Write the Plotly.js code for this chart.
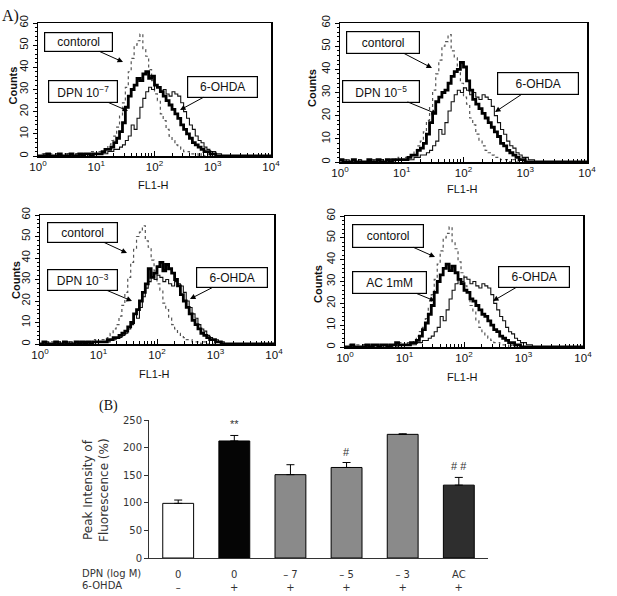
<!DOCTYPE html>
<html>
<head>
<meta charset="utf-8">
<script src="https://cdn.plot.ly/plotly-3.0.1.min.js"></script>
<style>html,body{margin:0;padding:0;background:#fff;}#chart{width:617px;height:596px;}</style>
</head>
<body>
<div id="chart"></div>
<script>
// ---- Histogram data (FL1-H channel values, counts) ----
const fl1Channels = [
  1.00,1.12,1.26,1.41,1.58,1.78,2.00,2.24,2.51,2.82,3.16,3.55,3.98,4.47,5.01,5.62,6.31,7.08,7.94,8.91,
  10.0,11.2,12.6,14.1,15.8,17.8,20.0,22.4,25.1,28.2,31.6,35.5,39.8,44.7,50.1,56.2,63.1,70.8,79.4,89.1,
  100,112,126,141,158,178,200,224,251,282,316,355,398,447,501,562,631,708,794,891,
  1000,1122,1259,1413,1585,1778,2000,2239,2512,2818,3162,10000
];
const controlCounts = [
  0,1,0,0,1,0,1,0,0,1,0,1,0,1,1,0,1,1,2,1,
  1,2,2,3,5,7,9,13,18,24,31,38,44,50,52,55,48,45,39,34,
  28,25,19,16,12,9,7,5,4,3,2,2,1,1,1,0,1,0,0,0,
  0,0,0,0,0,0,0,0,0,0,0,0
];
const ohdaCounts = [
  0,0,1,0,0,0,1,0,0,0,1,0,0,1,0,0,1,0,1,1,
  1,1,1,1,2,2,3,3,4,5,7,9,14,12,17,22,26,29,31,30,
  32,31,29,30,28,27,29,28,27,24,20,17,14,12,9,7,6,4,3,2,
  2,1,1,0,0,0,0,0,0,0,0,0
];
const dpn7Counts = [
  0,0,0,1,0,0,0,1,0,0,0,1,0,0,1,0,1,1,0,1,
  1,1,2,3,3,4,6,8,11,15,22,27,30,32,35,34,37,38,35,36,
  32,31,29,27,25,23,21,19,17,14,12,10,8,6,5,4,3,2,2,1,
  1,0,0,0,0,0,0,0,0,0,0,0
];
const dpn5Counts = [
  1,0,0,0,1,0,0,0,0,1,0,0,1,0,0,1,0,1,1,1,
  1,1,2,3,3,5,6,8,12,17,21,26,28,30,31,34,37,39,40,43,
  41,35,31,27,25,23,21,19,17,15,13,11,8,7,5,4,3,2,1,1,
  0,0,0,0,0,0,0,0,0,0,0,0
];
const dpn3Counts = [
  0,1,0,0,0,1,0,0,1,0,0,0,1,0,1,0,1,0,1,1,
  1,1,1,2,2,3,3,4,5,6,8,10,14,16,20,24,28,35,31,33,
  36,38,34,37,35,33,30,27,23,20,17,14,11,9,7,5,4,3,2,2,
  1,1,0,0,0,0,0,0,0,0,0,0
];
const acCounts = [
  0,0,1,0,0,0,0,1,0,1,1,0,1,1,0,1,1,2,1,1,
  1,1,2,2,3,5,8,11,15,19,25,30,33,36,38,35,37,34,31,29,
  26,25,22,21,19,17,15,14,12,10,8,7,5,4,3,2,2,1,1,0,
  0,0,0,0,0,0,0,0,0,0,0,0
];
const panelTreatments = ["DPN 10<sup>−7</sup>", "DPN 10<sup>−5</sup>", "DPN 10<sup>−3</sup>", "AC 1mM"];
const xTickVals = [1, 10, 100, 1000, 10000];
const xTickText = ["10<sup>0</sup>", "10<sup>1</sup>", "10<sup>2</sup>", "10<sup>3</sup>", "10<sup>4</sup>"];

// ---- Bar chart data ----
const dpnLabels = ["0", "0", "– 7", "– 5", "– 3", "AC"];
const ohdaSigns = ["–", "+", "+", "+", "+", "+"];
const peakIntensity = [99, 212, 151, 164, 224, 132];
const peakErrorUp = [6, 10, 18, 9, 1, 14];
const peakErrorDown = [0, 0, 0, 0, 0, 0];
const sigMarks = ["", "**", "", "#", "", "# #"];
const barColors = ["#ffffff", "#050505", "#8a8a8a", "#8a8a8a", "#8a8a8a", "#2e2e2e"];

// ---- Layout helpers ----
const W = 617, H = 596;
const px = v => v / W;
const py = v => 1 - v / H;
const AR = "Liberation Sans, Arial, sans-serif";
const DJ = "DejaVu Sans, sans-serif";

const treatmentCounts = [dpn7Counts, dpn5Counts, dpn3Counts, acCounts];
// pixel boxes of the four histogram panels: [left, right, top, bottom]
const boxes = [[38, 271, 23, 156], [340, 587, 23, 162], [40, 274, 215, 344], [345, 583, 216, 347]];

const minorX = [];
for (let d = 0; d < 4; d++) for (let k = 2; k <= 9; k++) minorX.push(k * Math.pow(10, d));

const traces = [];
const layout = {
  width: W, height: H,
  margin: {l: 0, r: 0, t: 0, b: 0},
  paper_bgcolor: "#fff", plot_bgcolor: "#fff",
  showlegend: false,
  font: {family: AR, color: "#111"},
  annotations: []
};

function textAt(x, y, text, font, extra) {
  layout.annotations.push(Object.assign({
    xref: "paper", yref: "paper", x: px(x), y: py(y), xanchor: "center", yanchor: "middle",
    text: text, showarrow: false, font: font
  }, extra || {}));
}

// annotation boxes: [boxCenterX, boxCenterY, tipX, tipY, width, height] per label per panel
const labelGeom = [
  [[78.5, 42, 123, 62, 61, 12], [83, 91.5, 128, 111, 62, 15], [222.5, 87, 180, 110, 63, 14]],
  [[383, 42.5, 432, 68, 66, 15], [381, 91, 437, 114, 70, 15], [538, 83.5, 495, 112, 74, 15]],
  [[82.5, 232.5, 127, 253, 63, 13], [82.5, 280, 132, 301, 63, 14], [232, 277.5, 190, 299, 64, 13]],
  [[388, 236, 435, 257, 64, 16], [389.5, 282.5, 435, 301, 67, 15], [534, 277, 493, 301, 64, 14]]
];
const countsTitlePos = [[12.5, 86], [312, 88], [16, 280], [318, 284]];
const flTitlePos = [[153, 185], [463, 189], [154, 374], [463, 377]];

for (let p = 0; p < 4; p++) {
  const n = p + 1;
  const xa = "x" + n, ya = "y" + n;
  const [l, r, t, b] = boxes[p];
  traces.push({x: fl1Channels, y: controlCounts, xaxis: xa, yaxis: ya, type: "scatter", mode: "lines",
    line: {color: "#555", width: 1.2, dash: "dot", shape: "hv"}, name: "contorol"});
  traces.push({x: fl1Channels, y: ohdaCounts, xaxis: xa, yaxis: ya, type: "scatter", mode: "lines",
    line: {color: "#111", width: 1.1, shape: "hv"}, name: "6-OHDA"});
  traces.push({x: fl1Channels, y: treatmentCounts[p], xaxis: xa, yaxis: ya, type: "scatter", mode: "lines",
    line: {color: "#000", width: 2.8, shape: "hv"}, name: panelTreatments[p]});
  const suffix = n === 1 ? "" : String(n);
  layout["xaxis" + suffix] = {
    domain: [px(l), px(r)], anchor: ya, type: "log", range: [0, 4],
    tickmode: "array", tickvals: xTickVals, ticktext: xTickText,
    ticks: "inside", ticklen: 5, tickcolor: "#000", tickwidth: 1,
    minor: {tickmode: "array", tickvals: minorX, ticks: "inside", ticklen: 3, tickcolor: "#000"},
    showgrid: false, zeroline: false, showline: true, linecolor: "#000", linewidth: 1.5, mirror: true,
    tickfont: {family: AR, size: 11.5, color: "#111"}
  };
  layout["yaxis" + suffix] = {
    domain: [py(b), py(t)], anchor: xa, range: [0, 60],
    tickmode: "linear", tick0: 0, dtick: 10, tickangle: -90,
    ticks: "outside", ticklen: 4, tickcolor: "#000",
    minor: {dtick: 2, ticks: "outside", ticklen: 2, tickcolor: "#000"},
    showgrid: false, zeroline: false, showline: true, linecolor: "#000", linewidth: 1.5, mirror: true,
    tickfont: {family: AR, size: 11, color: "#111"}
  };
  const labels = ["contorol", panelTreatments[p], "6-OHDA"];
  labelGeom[p].forEach((g, k) => {
    layout.annotations.push({
      xref: "paper", yref: "paper", x: px(g[2]), y: py(g[3]),
      ax: g[0] - g[2], ay: g[1] - g[3], axref: "pixel", ayref: "pixel",
      text: labels[k], showarrow: true, arrowhead: 2, arrowsize: 1.1, arrowwidth: 1, arrowcolor: "#000",
      bordercolor: "#000", borderwidth: 1.2, borderpad: 3, bgcolor: "#fff",
      width: g[4], height: g[5], align: "center",
      font: {family: AR, size: 12, color: "#111"}
    });
  });
  textAt(countsTitlePos[p][0], countsTitlePos[p][1], "<b>Counts</b>", {family: AR, size: 11, color: "#111"}, {textangle: -90});
  textAt(flTitlePos[p][0], flTitlePos[p][1], "FL1-H", {family: AR, size: 11, color: "#111"});
}

// ---- Bar chart ----
const barX = dpnLabels.map((_, i) => i);
traces.push({
  type: "bar", x: barX, y: peakIntensity, xaxis: "x5", yaxis: "y5", width: 0.55,
  marker: {color: barColors, line: {color: "#000", width: 1}},
  error_y: {type: "data", symmetric: false, array: peakErrorUp, arrayminus: peakErrorDown,
    color: "#000", thickness: 1, width: 4}
});
layout.xaxis5 = {
  domain: [px(149), px(488)], anchor: "y5", range: [-0.52, 5.52],
  tickmode: "array", tickvals: barX, ticktext: dpnLabels.map((d, i) => d + "<br>" + ohdaSigns[i]),
  ticks: "", ticklabelstandoff: 7, showgrid: false, zeroline: false, showline: true, linecolor: "#333", linewidth: 1,
  tickfont: {family: DJ, size: 10, color: "#333"}
};
layout.yaxis5 = {
  domain: [py(558), py(420)], anchor: "x5", range: [0, 250],
  tickmode: "linear", tick0: 0, dtick: 50, ticks: "outside", ticklen: 4, tickcolor: "#333",
  showgrid: false, zeroline: false, showline: true, linecolor: "#333", linewidth: 1,
  tickfont: {family: DJ, size: 10, color: "#333"}
};
sigMarks.forEach((m, i) => {
  if (!m) return;
  layout.annotations.push({xref: "x5", yref: "y5", x: i, y: peakIntensity[i] + peakErrorUp[i],
    xanchor: "center", yanchor: "bottom", yshift: 3, text: m, showarrow: false,
    font: {family: AR, size: 11, color: "#333"}});
});
textAt(88, 490, "Peak Intensity of", {family: DJ, size: 12, color: "#333"}, {textangle: -90});
textAt(104, 490, "Fluorescence (%)", {family: DJ, size: 12, color: "#333"}, {textangle: -90});
textAt(80, 573, "DPN (log M)", {family: DJ, size: 10, color: "#333"}, {xanchor: "left"});
textAt(80, 585, "6-OHDA", {family: DJ, size: 10, color: "#333"}, {xanchor: "left"});
textAt(97, 406, "(B)", {family: "Liberation Serif, Times New Roman, serif", size: 14, color: "#111"}, {xanchor: "left"});
textAt(0, 16, "A)", {family: "Liberation Serif, Times New Roman, serif", size: 16, color: "#111"}, {xanchor: "left"});

Plotly.newPlot("chart", traces, layout, {displayModeBar: false, staticPlot: true});
</script>
</body>
</html>
